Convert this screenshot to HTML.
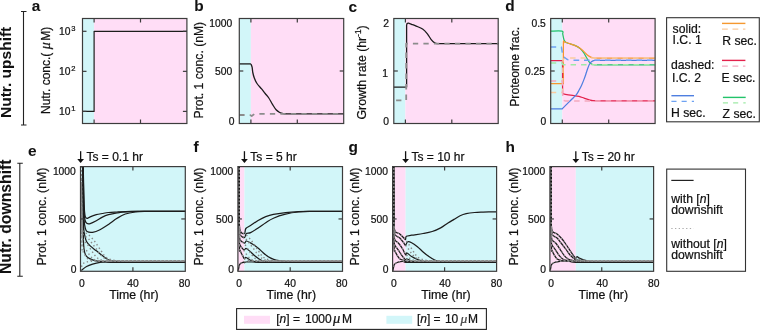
<!DOCTYPE html>
<html><head><meta charset="utf-8"><title>Figure</title>
<style>html,body{margin:0;padding:0;background:#fff;width:760px;height:330px;overflow:hidden}svg{display:block;will-change:transform}text{stroke:#111;stroke-width:0.22px}text[font-weight=bold]{stroke-width:0.05px}</style>
</head><body>
<svg width="760" height="330" viewBox="0 0 760 330" font-family="'Liberation Sans', sans-serif" fill="#111">
<rect width="760" height="330" fill="#fff"/>
<rect x="82.50" y="18.50" width="11.60" height="105.00" fill="#D2F6F9"/>
<rect x="94.10" y="18.50" width="92.80" height="105.00" fill="#FFDDF6"/>
<rect x="239.30" y="18.50" width="11.60" height="105.00" fill="#D2F6F9"/>
<rect x="250.90" y="18.50" width="92.80" height="105.00" fill="#FFDDF6"/>
<rect x="393.80" y="18.50" width="11.60" height="105.00" fill="#D2F6F9"/>
<rect x="405.40" y="18.50" width="92.80" height="105.00" fill="#FFDDF6"/>
<rect x="550.70" y="18.50" width="11.60" height="105.00" fill="#D2F6F9"/>
<rect x="562.30" y="18.50" width="92.80" height="105.00" fill="#FFDDF6"/>
<path d="M82.50,111.40 L94.10,111.40 L94.10,31.30 L186.90,31.30" fill="none" stroke="#1c1c1c" stroke-width="1.20" stroke-linejoin="round" />
<path d="M239.30,63.90 L250.90,63.90" fill="none" stroke="#1c1c1c" stroke-width="1.30" stroke-linejoin="round" />
<path d="M250.90,63.90 C251.10,64.43 251.78,65.67 252.10,67.10 C252.42,68.53 252.43,70.68 252.80,72.50 C253.17,74.32 253.60,76.17 254.30,78.00 C255.00,79.83 255.78,81.68 257.00,83.50 C258.22,85.32 260.23,87.23 261.60,88.90 C262.97,90.57 264.00,91.98 265.20,93.50 C266.40,95.02 267.58,96.18 268.80,98.00 C270.02,99.82 271.28,102.43 272.50,104.40 C273.72,106.37 274.90,108.45 276.10,109.80 C277.30,111.15 278.48,111.87 279.70,112.50 C280.92,113.13 282.03,113.38 283.40,113.60 C284.77,113.82 287.15,113.77 287.90,113.80 L343.70,113.8" fill="none" stroke="#1c1c1c" stroke-width="1.30" stroke-linejoin="round" />
<path d="M239.30,115.00 L249.90,115.00 L251.70,116.00 L254.40,114.00 L258.90,113.80 L343.70,113.80" fill="none" stroke="#8c8c8c" stroke-width="1.80" stroke-dasharray="5.3 5.2" stroke-linejoin="round" />
<path d="M393.80,87.10 L406.60,87.10 L406.60,25.20 L406.60,25.20 C406.70,24.92 406.90,23.85 407.20,23.50 C407.50,23.15 407.67,22.97 408.40,23.10 C409.13,23.23 410.30,23.80 411.60,24.30 C412.90,24.80 414.37,25.32 416.20,26.10 C418.03,26.88 420.73,27.72 422.60,29.00 C424.47,30.28 426.00,32.08 427.40,33.80 C428.80,35.52 429.78,37.78 431.00,39.30 C432.22,40.82 433.53,42.18 434.70,42.90 C435.87,43.62 436.28,43.48 438.00,43.60 C439.72,43.72 443.83,43.60 445.00,43.60 L498.20,43.6" fill="none" stroke="#1c1c1c" stroke-width="1.30" stroke-linejoin="round" />
<path d="M393.80,100.30 L406.20,100.30 L406.20,43.60 L498.20,43.60" fill="none" stroke="#8c8c8c" stroke-width="1.80" stroke-dasharray="5.3 5.2" stroke-linejoin="round" stroke-dashoffset="8.2"/>
<path d="M550.70,31.10 C552.58,31.10 560.00,30.63 562.00,31.10 C564.00,31.57 562.47,32.87 562.70,33.90 C562.93,34.93 563.17,36.28 563.40,37.30 C563.63,38.32 563.65,39.13 564.10,40.00 C564.55,40.87 564.97,41.82 566.10,42.50 C567.23,43.18 569.18,43.50 570.90,44.10 C572.62,44.70 574.80,45.30 576.40,46.10 C578.00,46.90 579.25,47.75 580.50,48.90 C581.75,50.05 582.88,51.53 583.90,53.00 C584.92,54.47 585.70,56.18 586.60,57.70 C587.50,59.22 588.38,61.00 589.30,62.10 C590.22,63.20 591.07,63.85 592.10,64.30 C593.13,64.75 594.18,64.72 595.50,64.80 C596.82,64.88 599.25,64.80 600.00,64.80 L655.10,64.8" fill="none" stroke="#22C36A" stroke-width="1.25" stroke-linejoin="round" />
<path d="M550.70,83.50 L563.40,83.50 L563.40,83.50 C563.40,77.00 563.32,51.32 563.40,44.50 C563.48,37.68 563.67,43.02 563.90,42.60 C564.13,42.18 563.63,41.75 564.80,42.00 C565.97,42.25 568.75,43.30 570.90,44.10 C573.05,44.90 575.65,45.67 577.70,46.80 C579.75,47.93 581.60,49.53 583.20,50.90 C584.80,52.27 586.05,53.97 587.30,55.00 C588.55,56.03 589.57,56.60 590.70,57.10 C591.83,57.60 592.55,57.83 594.10,58.00 C595.65,58.17 599.02,58.08 600.00,58.10 L655.10,58.1" fill="none" stroke="#F5982F" stroke-width="1.25" stroke-linejoin="round" />
<path d="M550.70,60.70 L562.50,60.70 L562.60,93.80 L562.60,93.80 C563.32,93.95 565.03,94.42 566.90,94.70 C568.77,94.98 571.78,95.22 573.80,95.50 C575.82,95.78 577.28,95.97 579.00,96.40 C580.72,96.83 582.38,97.53 584.10,98.10 C585.82,98.67 587.85,99.37 589.30,99.80 C590.75,100.23 591.35,100.52 592.80,100.70 C594.25,100.88 597.13,100.87 598.00,100.90 L655.10,100.9" fill="none" stroke="#E3224D" stroke-width="1.25" stroke-linejoin="round" />
<path d="M550.70,108.80 L562.30,108.80 L562.30,108.80 C562.48,108.60 562.63,108.38 563.40,107.60 C564.17,106.82 565.75,105.25 566.90,104.10 C568.05,102.95 569.15,101.85 570.30,100.70 C571.45,99.55 572.78,98.20 573.80,97.20 C574.82,96.20 575.53,95.85 576.40,94.70 C577.27,93.55 578.13,91.88 579.00,90.30 C579.87,88.72 580.75,87.07 581.60,85.20 C582.45,83.33 583.38,80.97 584.10,79.10 C584.82,77.23 585.32,75.72 585.90,74.00 C586.48,72.28 587.03,70.38 587.60,68.80 C588.17,67.22 588.67,65.67 589.30,64.50 C589.93,63.33 590.53,62.48 591.40,61.80 C592.27,61.12 593.07,60.65 594.50,60.40 C595.93,60.15 599.08,60.32 600.00,60.30 L655.10,60.3" fill="none" stroke="#4F7FE0" stroke-width="1.25" stroke-linejoin="round" />
<path d="M550.70,63.10 L562.30,63.10 L563.00,64.80 L655.10,64.80" fill="none" stroke="#9EEAA6" stroke-width="1.50" stroke-dasharray="5.5 5" stroke-linejoin="round" />
<path d="M550.70,92.60 L562.60,92.60 L563.00,60.00 L564.50,58.10 L655.10,58.10" fill="none" stroke="#F9CBA0" stroke-width="1.50" stroke-dasharray="5.5 5" stroke-linejoin="round" />
<path d="M550.70,81.10 L562.30,81.10 L562.80,100.00 L565.00,100.90 L655.10,100.90" fill="none" stroke="#F4A9BF" stroke-width="1.50" stroke-dasharray="5.5 5" stroke-linejoin="round" />
<path d="M550.70,47.10 L561.40,47.10 L561.40,47.10 C561.62,48.30 562.25,52.63 562.70,54.30 C563.15,55.97 563.42,56.30 564.10,57.10 C564.78,57.90 565.82,58.58 566.80,59.10 C567.78,59.62 567.80,60.00 570.00,60.20 C572.20,60.40 578.33,60.28 580.00,60.30 L655.10,60.3" fill="none" stroke="#6EA2F2" stroke-width="1.50" stroke-dasharray="5.5 5" stroke-linejoin="round" />
<line x1="94.10" y1="18.50" x2="94.10" y2="22.50" stroke="#3c3c3c" stroke-width="1.2"/>
<line x1="94.10" y1="119.50" x2="94.10" y2="123.50" stroke="#3c3c3c" stroke-width="1.2"/>
<line x1="140.50" y1="18.50" x2="140.50" y2="22.50" stroke="#3c3c3c" stroke-width="1.2"/>
<line x1="140.50" y1="119.50" x2="140.50" y2="123.50" stroke="#3c3c3c" stroke-width="1.2"/>
<line x1="82.50" y1="31.30" x2="86.50" y2="31.30" stroke="#3c3c3c" stroke-width="1.2"/>
<line x1="182.90" y1="31.30" x2="186.90" y2="31.30" stroke="#3c3c3c" stroke-width="1.2"/>
<line x1="82.50" y1="71.35" x2="86.50" y2="71.35" stroke="#3c3c3c" stroke-width="1.2"/>
<line x1="182.90" y1="71.35" x2="186.90" y2="71.35" stroke="#3c3c3c" stroke-width="1.2"/>
<line x1="82.50" y1="111.40" x2="86.50" y2="111.40" stroke="#3c3c3c" stroke-width="1.2"/>
<line x1="182.90" y1="111.40" x2="186.90" y2="111.40" stroke="#3c3c3c" stroke-width="1.2"/>
<rect x="82.50" y="18.50" width="104.40" height="105.00" fill="none" stroke="#3c3c3c" stroke-width="1.2"/>
<line x1="250.90" y1="18.50" x2="250.90" y2="22.50" stroke="#3c3c3c" stroke-width="1.2"/>
<line x1="250.90" y1="119.50" x2="250.90" y2="123.50" stroke="#3c3c3c" stroke-width="1.2"/>
<line x1="297.30" y1="18.50" x2="297.30" y2="22.50" stroke="#3c3c3c" stroke-width="1.2"/>
<line x1="297.30" y1="119.50" x2="297.30" y2="123.50" stroke="#3c3c3c" stroke-width="1.2"/>
<line x1="239.30" y1="71.00" x2="243.30" y2="71.00" stroke="#3c3c3c" stroke-width="1.2"/>
<line x1="339.70" y1="71.00" x2="343.70" y2="71.00" stroke="#3c3c3c" stroke-width="1.2"/>
<rect x="239.30" y="18.50" width="104.40" height="105.00" fill="none" stroke="#3c3c3c" stroke-width="1.2"/>
<line x1="405.40" y1="18.50" x2="405.40" y2="22.50" stroke="#3c3c3c" stroke-width="1.2"/>
<line x1="405.40" y1="119.50" x2="405.40" y2="123.50" stroke="#3c3c3c" stroke-width="1.2"/>
<line x1="451.80" y1="18.50" x2="451.80" y2="22.50" stroke="#3c3c3c" stroke-width="1.2"/>
<line x1="451.80" y1="119.50" x2="451.80" y2="123.50" stroke="#3c3c3c" stroke-width="1.2"/>
<line x1="393.80" y1="71.00" x2="397.80" y2="71.00" stroke="#3c3c3c" stroke-width="1.2"/>
<line x1="494.20" y1="71.00" x2="498.20" y2="71.00" stroke="#3c3c3c" stroke-width="1.2"/>
<rect x="393.80" y="18.50" width="104.40" height="105.00" fill="none" stroke="#3c3c3c" stroke-width="1.2"/>
<line x1="562.30" y1="18.50" x2="562.30" y2="22.50" stroke="#3c3c3c" stroke-width="1.2"/>
<line x1="562.30" y1="119.50" x2="562.30" y2="123.50" stroke="#3c3c3c" stroke-width="1.2"/>
<line x1="608.70" y1="18.50" x2="608.70" y2="22.50" stroke="#3c3c3c" stroke-width="1.2"/>
<line x1="608.70" y1="119.50" x2="608.70" y2="123.50" stroke="#3c3c3c" stroke-width="1.2"/>
<line x1="550.70" y1="71.00" x2="554.70" y2="71.00" stroke="#3c3c3c" stroke-width="1.2"/>
<line x1="651.10" y1="71.00" x2="655.10" y2="71.00" stroke="#3c3c3c" stroke-width="1.2"/>
<rect x="550.70" y="18.50" width="104.40" height="105.00" fill="none" stroke="#3c3c3c" stroke-width="1.2"/>
<rect x="80.50" y="166.60" width="0.13" height="104.70" fill="#FFDDF6"/>
<rect x="80.63" y="166.60" width="104.67" height="104.70" fill="#D2F6F9"/>
<rect x="237.90" y="166.60" width="6.54" height="104.70" fill="#FFDDF6"/>
<rect x="244.44" y="166.60" width="98.06" height="104.70" fill="#D2F6F9"/>
<rect x="392.60" y="166.60" width="13.00" height="104.70" fill="#FFDDF6"/>
<rect x="405.60" y="166.60" width="91.00" height="104.70" fill="#D2F6F9"/>
<rect x="549.90" y="166.60" width="25.92" height="104.70" fill="#FFDDF6"/>
<rect x="575.82" y="166.60" width="77.78" height="104.70" fill="#D2F6F9"/>
<path d="M83.22,166.60 C83.29,169.67 83.47,178.60 83.62,185.00 C83.78,191.40 83.91,200.00 84.13,205.00 C84.35,210.00 84.61,212.87 84.93,215.00 C85.25,217.13 85.61,217.25 86.04,217.80 C86.48,218.35 86.87,218.47 87.55,218.30 C88.24,218.13 88.71,217.40 90.17,216.80 C91.64,216.20 94.29,215.25 96.32,214.70 C98.35,214.15 100.33,213.87 102.37,213.50 C104.40,213.13 106.06,212.75 108.51,212.50 C110.97,212.25 113.35,212.18 117.08,212.00 C120.81,211.82 126.90,211.52 130.88,211.40 C134.87,211.28 139.28,211.32 140.96,211.30 L185.30,211.30" fill="none" stroke="#1c1c1c" stroke-width="1.25" stroke-linejoin="round" />
<path d="M83.12,166.60 C83.19,170.50 83.36,182.27 83.52,190.00 C83.69,197.73 83.86,207.92 84.13,213.00 C84.40,218.08 84.70,218.78 85.14,220.50 C85.57,222.22 85.91,222.78 86.75,223.30 C87.59,223.82 88.58,224.02 90.17,223.60 C91.77,223.18 94.29,221.88 96.32,220.80 C98.35,219.72 100.33,218.12 102.37,217.10 C104.40,216.08 106.06,215.40 108.51,214.70 C110.97,214.00 114.19,213.38 117.08,212.90 C119.97,212.42 121.87,212.07 125.85,211.80 C129.83,211.53 138.44,211.38 140.96,211.30 L185.30,211.30" fill="none" stroke="#1c1c1c" stroke-width="1.25" stroke-linejoin="round" />
<path d="M83.02,166.60 C83.09,171.33 83.25,186.27 83.42,195.00 C83.59,203.73 83.72,213.50 84.03,219.00 C84.33,224.50 84.73,225.92 85.24,228.00 C85.74,230.08 85.82,230.78 87.05,231.50 C88.28,232.22 90.44,232.58 92.59,232.30 C94.74,232.02 97.29,231.12 99.95,229.80 C102.60,228.48 105.66,226.32 108.51,224.40 C111.37,222.48 114.27,220.03 117.08,218.30 C119.88,216.57 122.29,215.05 125.34,214.00 C128.40,212.95 131.98,212.43 135.42,212.00 C138.86,211.57 142.56,211.52 146.00,211.40 C149.44,211.28 154.40,211.32 156.08,211.30 L185.30,211.30" fill="none" stroke="#1c1c1c" stroke-width="1.25" stroke-linejoin="round" />
<path d="M82.82,166.60 C82.88,172.17 83.07,189.77 83.22,200.00 C83.37,210.23 83.42,221.92 83.72,228.00 C84.03,234.08 84.56,234.25 85.03,236.50 C85.50,238.75 85.69,239.93 86.55,241.50 C87.40,243.07 88.54,244.35 90.17,245.90 C91.80,247.45 94.29,249.18 96.32,250.80 C98.35,252.42 100.33,254.10 102.37,255.60 C104.40,257.10 106.46,258.87 108.51,259.80 C110.56,260.73 112.28,260.83 114.66,261.20 C117.05,261.57 120.12,261.80 122.82,262.00 C125.53,262.20 129.54,262.33 130.88,262.40 L185.30,262.40" fill="none" stroke="#1c1c1c" stroke-width="1.25" stroke-linejoin="round" />
<path d="M82.62,166.60 C82.68,173.83 82.88,197.77 83.02,210.00 C83.15,222.23 83.24,233.42 83.42,240.00 C83.61,246.58 83.81,247.10 84.13,249.50 C84.45,251.90 84.73,253.08 85.34,254.40 C85.94,255.72 86.55,256.50 87.76,257.40 C88.96,258.30 90.96,259.17 92.59,259.80 C94.22,260.43 95.35,260.83 97.53,261.20 C99.71,261.57 103.16,261.80 105.69,262.00 C108.23,262.20 111.57,262.33 112.75,262.40 L185.30,262.40" fill="none" stroke="#1c1c1c" stroke-width="1.25" stroke-linejoin="round" />
<path d="M80.80,271.00 C80.94,270.87 80.65,270.95 81.61,270.20 C82.57,269.45 84.72,267.52 86.55,266.50 C88.38,265.48 90.36,264.80 92.59,264.10 C94.83,263.40 97.70,262.65 99.95,262.30 C102.20,261.95 103.96,261.98 106.10,262.00 C108.23,262.02 111.64,262.33 112.75,262.40 L185.30,262.40" fill="none" stroke="#1c1c1c" stroke-width="1.25" stroke-linejoin="round" />
<path d="M81.31,166.60 C81.37,174.67 81.47,204.35 81.71,215.00 C81.94,225.65 81.71,227.33 82.72,230.50 C83.72,233.67 86.08,232.58 87.76,234.00 C89.43,235.42 91.28,237.25 92.79,239.00 C94.31,240.75 95.48,242.58 96.82,244.50 C98.17,246.42 99.68,248.75 100.86,250.50 C102.03,252.25 102.87,253.78 103.88,255.00 C104.89,256.22 105.73,257.05 106.90,257.80 C108.08,258.55 109.42,259.05 110.93,259.50 C112.44,259.95 113.99,260.25 115.97,260.50 C117.95,260.75 120.34,260.92 122.82,261.00 C125.31,261.08 129.54,261.00 130.88,261.00 L185.30,261.00" fill="none" stroke="#8a8a8a" stroke-width="1.40" stroke-dasharray="1.4 2.6" stroke-linejoin="round" />
<path d="M81.31,170.00 C81.39,178.67 81.57,211.32 81.81,222.00 C82.05,232.68 81.73,231.43 82.72,234.10 C83.71,236.77 86.24,236.52 87.76,238.00 C89.27,239.48 90.27,241.08 91.79,243.00 C93.30,244.92 95.31,247.50 96.82,249.50 C98.34,251.50 99.51,253.50 100.86,255.00 C102.20,256.50 103.54,257.63 104.89,258.50 C106.23,259.37 107.27,259.80 108.92,260.20 C110.56,260.60 112.44,260.77 114.76,260.90 C117.08,261.03 121.48,260.98 122.82,261.00 L185.30,261.00" fill="none" stroke="#8a8a8a" stroke-width="1.40" stroke-dasharray="1.4 2.6" stroke-linejoin="round" />
<path d="M81.31,175.00 C81.41,184.17 81.68,219.25 81.91,230.00 C82.15,240.75 81.91,237.25 82.72,239.50 C83.52,241.75 85.40,241.87 86.75,243.50 C88.09,245.13 89.43,247.33 90.78,249.30 C92.12,251.27 93.47,253.68 94.81,255.30 C96.15,256.92 97.33,258.12 98.84,259.00 C100.35,259.88 101.90,260.27 103.88,260.60 C105.86,260.93 108.25,260.93 110.73,261.00 C113.22,261.07 117.45,261.00 118.79,261.00 L185.30,261.00" fill="none" stroke="#8a8a8a" stroke-width="1.40" stroke-dasharray="1.4 2.6" stroke-linejoin="round" />
<path d="M81.31,180.00 C81.42,189.67 81.78,227.17 82.01,238.00 C82.25,248.83 82.10,243.12 82.72,245.00 C83.34,246.88 84.56,247.58 85.74,249.30 C86.92,251.02 88.43,253.65 89.77,255.30 C91.11,256.95 92.29,258.30 93.80,259.20 C95.31,260.10 96.86,260.40 98.84,260.70 C100.82,261.00 103.37,260.95 105.69,261.00 C108.01,261.05 111.57,261.00 112.75,261.00 L185.30,261.00" fill="none" stroke="#8a8a8a" stroke-width="1.40" stroke-dasharray="1.4 2.6" stroke-linejoin="round" />
<path d="M81.31,185.00 C81.42,195.00 81.78,234.08 82.01,245.00 C82.25,255.92 82.20,248.77 82.72,250.50 C83.24,252.23 84.28,254.00 85.14,255.40 C85.99,256.80 86.65,258.05 87.86,258.90 C89.07,259.75 90.59,260.15 92.39,260.50 C94.19,260.85 96.25,260.92 98.64,261.00 C101.02,261.08 105.36,261.00 106.70,261.00 L185.30,261.00" fill="none" stroke="#8a8a8a" stroke-width="1.40" stroke-dasharray="1.4 2.6" stroke-linejoin="round" />
<path d="M80.80,271.00 C81.05,269.90 81.44,265.87 82.31,264.40 C83.19,262.93 84.67,262.72 86.04,262.20 C87.42,261.68 88.81,261.50 90.58,261.30 C92.34,261.10 95.62,261.05 96.62,261.00 L185.30,261.00" fill="none" stroke="#8a8a8a" stroke-width="1.40" stroke-dasharray="1.4 2.6" stroke-linejoin="round" />
<line x1="132.90" y1="166.60" x2="132.90" y2="170.60" stroke="#3c3c3c" stroke-width="1.2"/>
<line x1="132.90" y1="267.30" x2="132.90" y2="271.30" stroke="#3c3c3c" stroke-width="1.2"/>
<line x1="80.50" y1="218.95" x2="84.50" y2="218.95" stroke="#3c3c3c" stroke-width="1.2"/>
<line x1="181.30" y1="218.95" x2="185.30" y2="218.95" stroke="#3c3c3c" stroke-width="1.2"/>
<rect x="80.50" y="166.60" width="104.80" height="104.70" fill="none" stroke="#3c3c3c" stroke-width="1.2"/>
<line x1="238.90" y1="166.60" x2="238.90" y2="228.00" stroke="#1c1c1c" stroke-width="1.5"/>
<path d="M238.70,166.60 C238.77,174.67 238.87,204.35 239.11,215.00 C239.34,225.65 239.22,227.40 240.11,230.50 C241.00,233.60 243.48,233.93 244.44,233.60 C245.39,233.27 244.82,229.85 245.85,228.50 C246.87,227.15 248.53,226.83 250.57,225.50 C252.62,224.17 255.58,221.97 258.12,220.50 C260.65,219.03 263.21,217.72 265.76,216.70 C268.31,215.68 270.10,215.08 273.40,214.40 C276.71,213.72 281.43,213.07 285.57,212.60 C289.71,212.13 294.12,211.82 298.25,211.60 C302.37,211.38 308.30,211.35 310.32,211.30 L342.50,211.30" fill="none" stroke="#1c1c1c" stroke-width="1.25" stroke-linejoin="round" />
<path d="M238.70,170.00 C238.79,178.67 238.97,211.32 239.21,222.00 C239.44,232.68 239.24,231.50 240.11,234.10 C240.98,236.70 243.40,237.70 244.44,237.60 C245.48,237.50 245.33,234.33 246.35,233.50 C247.37,232.67 248.61,233.52 250.57,232.60 C252.53,231.68 255.58,229.65 258.12,228.00 C260.65,226.35 263.21,224.33 265.76,222.70 C268.31,221.07 270.10,219.62 273.40,218.20 C276.71,216.78 281.43,215.23 285.57,214.20 C289.71,213.17 293.62,212.47 298.25,212.00 C302.87,211.53 309.14,211.52 313.33,211.40 C317.52,211.28 321.71,211.32 323.39,211.30 L342.50,211.30" fill="none" stroke="#1c1c1c" stroke-width="1.25" stroke-linejoin="round" />
<path d="M238.70,175.00 C238.81,184.17 239.07,219.25 239.31,230.00 C239.54,240.75 239.26,237.30 240.11,239.50 C240.97,241.70 243.36,242.95 244.44,243.20 C245.51,243.45 245.24,240.87 246.55,241.00 C247.86,241.13 250.44,242.88 252.28,244.00 C254.13,245.12 255.84,246.28 257.61,247.70 C259.39,249.12 261.17,250.98 262.94,252.50 C264.72,254.02 266.48,255.65 268.27,256.80 C270.07,257.95 271.91,258.75 273.71,259.40 C275.50,260.05 276.89,260.33 279.04,260.70 C281.18,261.07 283.71,261.32 286.58,261.60 C289.45,261.88 294.63,262.27 296.23,262.40 L342.50,262.40" fill="none" stroke="#1c1c1c" stroke-width="1.25" stroke-linejoin="round" />
<path d="M238.70,180.00 C238.82,189.67 239.17,227.17 239.41,238.00 C239.64,248.83 239.49,243.12 240.11,245.00 C240.73,246.88 242.41,248.50 243.13,249.30 C243.85,250.10 243.92,249.93 244.44,249.80 C244.96,249.67 245.29,248.22 246.25,248.50 C247.20,248.78 248.81,250.32 250.17,251.50 C251.53,252.68 252.79,254.27 254.39,255.60 C256.00,256.93 257.98,258.52 259.83,259.50 C261.67,260.48 263.08,261.02 265.46,261.50 C267.84,261.98 272.67,262.25 274.11,262.40 L342.50,262.40" fill="none" stroke="#1c1c1c" stroke-width="1.25" stroke-linejoin="round" />
<path d="M238.70,185.00 C238.82,195.00 239.17,234.08 239.41,245.00 C239.64,255.92 239.59,248.77 240.11,250.50 C240.63,252.23 241.81,254.02 242.53,255.40 C243.25,256.78 243.87,258.45 244.44,258.80 C245.01,259.15 245.02,257.30 245.95,257.50 C246.87,257.70 248.46,259.32 249.97,260.00 C251.48,260.68 252.82,261.20 255.00,261.60 C257.18,262.00 261.70,262.27 263.04,262.40 L342.50,262.40" fill="none" stroke="#1c1c1c" stroke-width="1.25" stroke-linejoin="round" />
<path d="M238.20,271.00 C238.45,269.90 238.84,265.87 239.71,264.40 C240.58,262.93 242.64,262.50 243.43,262.20 C244.22,261.90 244.02,262.63 244.44,262.60 C244.86,262.57 244.69,262.10 245.95,262.00 C247.20,261.90 249.63,261.93 251.98,262.00 C254.33,262.07 258.69,262.33 260.03,262.40 L342.50,262.40" fill="none" stroke="#1c1c1c" stroke-width="1.25" stroke-linejoin="round" />
<path d="M238.70,166.60 C238.77,174.67 238.87,204.35 239.11,215.00 C239.34,225.65 239.11,227.33 240.11,230.50 C241.12,233.67 243.47,232.58 245.14,234.00 C246.82,235.42 248.66,237.25 250.17,239.00 C251.68,240.75 252.85,242.58 254.19,244.50 C255.53,246.42 257.04,248.75 258.22,250.50 C259.39,252.25 260.23,253.78 261.23,255.00 C262.24,256.22 263.08,257.05 264.25,257.80 C265.42,258.55 266.77,259.05 268.27,259.50 C269.78,259.95 271.33,260.25 273.30,260.50 C275.28,260.75 277.66,260.92 280.14,261.00 C282.62,261.08 286.85,261.00 288.19,261.00 L342.50,261.00" fill="none" stroke="#8a8a8a" stroke-width="1.40" stroke-dasharray="1.4 2.6" stroke-linejoin="round" />
<path d="M238.70,170.00 C238.79,178.67 238.97,211.32 239.21,222.00 C239.44,232.68 239.12,231.43 240.11,234.10 C241.10,236.77 243.63,236.52 245.14,238.00 C246.65,239.48 247.66,241.08 249.16,243.00 C250.67,244.92 252.68,247.50 254.19,249.50 C255.70,251.50 256.88,253.50 258.22,255.00 C259.56,256.50 260.90,257.63 262.24,258.50 C263.58,259.37 264.62,259.80 266.26,260.20 C267.91,260.60 269.78,260.77 272.10,260.90 C274.41,261.03 278.80,260.98 280.14,261.00 L342.50,261.00" fill="none" stroke="#8a8a8a" stroke-width="1.40" stroke-dasharray="1.4 2.6" stroke-linejoin="round" />
<path d="M238.70,175.00 C238.81,184.17 239.07,219.25 239.31,230.00 C239.54,240.75 239.31,237.25 240.11,239.50 C240.92,241.75 242.79,241.87 244.14,243.50 C245.48,245.13 246.82,247.33 248.16,249.30 C249.50,251.27 250.84,253.68 252.18,255.30 C253.52,256.92 254.70,258.12 256.20,259.00 C257.71,259.88 259.26,260.27 261.23,260.60 C263.21,260.93 265.59,260.93 268.07,261.00 C270.55,261.07 274.78,261.00 276.12,261.00 L342.50,261.00" fill="none" stroke="#8a8a8a" stroke-width="1.40" stroke-dasharray="1.4 2.6" stroke-linejoin="round" />
<path d="M238.70,180.00 C238.82,189.67 239.17,227.17 239.41,238.00 C239.64,248.83 239.49,243.12 240.11,245.00 C240.73,246.88 241.96,247.58 243.13,249.30 C244.30,251.02 245.81,253.65 247.15,255.30 C248.49,256.95 249.67,258.30 251.18,259.20 C252.68,260.10 254.23,260.40 256.20,260.70 C258.18,261.00 260.73,260.95 263.04,261.00 C265.36,261.05 268.91,261.00 270.08,261.00 L342.50,261.00" fill="none" stroke="#8a8a8a" stroke-width="1.40" stroke-dasharray="1.4 2.6" stroke-linejoin="round" />
<path d="M238.70,185.00 C238.82,195.00 239.17,234.08 239.41,245.00 C239.64,255.92 239.59,248.77 240.11,250.50 C240.63,252.23 241.67,254.00 242.53,255.40 C243.38,256.80 244.04,258.05 245.24,258.90 C246.45,259.75 247.97,260.15 249.77,260.50 C251.56,260.85 253.62,260.92 256.00,261.00 C258.38,261.08 262.71,261.00 264.05,261.00 L342.50,261.00" fill="none" stroke="#8a8a8a" stroke-width="1.40" stroke-dasharray="1.4 2.6" stroke-linejoin="round" />
<path d="M238.20,271.00 C238.45,269.90 238.84,265.87 239.71,264.40 C240.58,262.93 242.06,262.72 243.43,262.20 C244.81,261.68 246.20,261.50 247.96,261.30 C249.72,261.10 252.99,261.05 253.99,261.00 L342.50,261.00" fill="none" stroke="#8a8a8a" stroke-width="1.40" stroke-dasharray="1.4 2.6" stroke-linejoin="round" />
<line x1="239.10" y1="166.60" x2="239.10" y2="226.00" stroke="#111" stroke-width="1.6"/>
<line x1="239.10" y1="168.10" x2="239.10" y2="226.00" stroke="#8a8a8a" stroke-width="1.6" stroke-dasharray="1.8 1.8"/>
<line x1="290.20" y1="166.60" x2="290.20" y2="170.60" stroke="#3c3c3c" stroke-width="1.2"/>
<line x1="290.20" y1="267.30" x2="290.20" y2="271.30" stroke="#3c3c3c" stroke-width="1.2"/>
<line x1="237.90" y1="218.95" x2="241.90" y2="218.95" stroke="#3c3c3c" stroke-width="1.2"/>
<line x1="338.50" y1="218.95" x2="342.50" y2="218.95" stroke="#3c3c3c" stroke-width="1.2"/>
<rect x="237.90" y="166.60" width="104.60" height="104.70" fill="none" stroke="#3c3c3c" stroke-width="1.2"/>
<line x1="393.60" y1="166.60" x2="393.60" y2="228.00" stroke="#1c1c1c" stroke-width="1.5"/>
<path d="M393.40,166.60 C393.47,174.67 393.57,204.35 393.80,215.00 C394.03,225.65 393.80,227.33 394.80,230.50 C395.80,233.67 398.13,232.58 399.80,234.00 C401.47,235.42 403.83,238.13 404.80,239.00 C405.77,239.87 405.33,239.65 405.60,239.20 C405.87,238.75 405.40,236.97 406.40,236.30 C407.40,235.63 408.82,235.67 411.60,235.20 C414.38,234.73 419.67,234.12 423.10,233.50 C426.53,232.88 429.27,232.43 432.20,231.50 C435.13,230.57 438.07,229.32 440.70,227.90 C443.33,226.48 445.78,224.42 448.00,223.00 C450.22,221.58 451.98,220.60 454.00,219.40 C456.02,218.20 458.07,216.75 460.10,215.80 C462.13,214.85 463.78,214.25 466.20,213.70 C468.62,213.15 471.78,212.77 474.60,212.50 C477.42,212.23 479.55,212.22 483.10,212.10 C486.65,211.98 493.77,211.85 495.90,211.80 L496.60,211.80" fill="none" stroke="#1c1c1c" stroke-width="1.25" stroke-linejoin="round" />
<path d="M393.40,170.00 C393.48,178.67 393.67,211.32 393.90,222.00 C394.13,232.68 393.82,231.43 394.80,234.10 C395.78,236.77 398.30,236.52 399.80,238.00 C401.30,239.48 402.83,241.78 403.80,243.00 C404.77,244.22 404.97,245.50 405.60,245.30 C406.23,245.10 406.60,242.23 407.60,241.80 C408.60,241.37 409.97,241.88 411.60,242.70 C413.23,243.52 415.48,245.17 417.40,246.70 C419.32,248.23 421.18,250.27 423.10,251.90 C425.02,253.53 426.97,255.15 428.90,256.50 C430.83,257.85 432.83,259.17 434.70,260.00 C436.57,260.83 437.95,261.10 440.10,261.50 C442.25,261.90 446.35,262.25 447.60,262.40 L496.60,262.40" fill="none" stroke="#1c1c1c" stroke-width="1.25" stroke-linejoin="round" />
<path d="M393.40,175.00 C393.50,184.17 393.77,219.25 394.00,230.00 C394.23,240.75 394.00,237.25 394.80,239.50 C395.60,241.75 397.47,241.87 398.80,243.50 C400.13,245.13 401.67,247.42 402.80,249.30 C403.93,251.18 404.90,254.18 405.60,254.80 C406.30,255.42 406.00,252.72 407.00,253.00 C408.00,253.28 409.87,255.43 411.60,256.50 C413.33,257.57 415.48,258.57 417.40,259.40 C419.32,260.23 420.90,261.00 423.10,261.50 C425.30,262.00 429.35,262.25 430.60,262.40 L496.60,262.40" fill="none" stroke="#1c1c1c" stroke-width="1.25" stroke-linejoin="round" />
<path d="M393.40,180.00 C393.52,189.67 393.87,227.17 394.10,238.00 C394.33,248.83 394.18,243.12 394.80,245.00 C395.42,246.88 396.63,247.58 397.80,249.30 C398.97,251.02 400.50,253.55 401.80,255.30 C403.10,257.05 404.72,259.18 405.60,259.80 C406.48,260.42 406.10,258.80 407.10,259.00 C408.10,259.20 409.68,260.43 411.60,261.00 C413.52,261.57 417.43,262.17 418.60,262.40 L496.60,262.40" fill="none" stroke="#1c1c1c" stroke-width="1.25" stroke-linejoin="round" />
<path d="M393.40,185.00 C393.52,195.00 393.87,234.08 394.10,245.00 C394.33,255.92 394.28,248.77 394.80,250.50 C395.32,252.23 396.35,254.00 397.20,255.40 C398.05,256.80 398.70,258.05 399.90,258.90 C401.10,259.75 403.45,260.03 404.40,260.50 C405.35,260.97 405.07,261.57 405.60,261.70 C406.13,261.83 406.43,261.25 407.60,261.30 C408.77,261.35 410.77,261.82 412.60,262.00 C414.43,262.18 417.60,262.33 418.60,262.40 L496.60,262.40" fill="none" stroke="#1c1c1c" stroke-width="1.25" stroke-linejoin="round" />
<path d="M392.90,271.00 C393.15,269.90 393.53,265.87 394.40,264.40 C395.27,262.93 396.73,262.72 398.10,262.20 C399.47,261.68 401.35,261.28 402.60,261.30 C403.85,261.32 403.93,262.12 405.60,262.30 C407.27,262.48 411.43,262.38 412.60,262.40 L496.60,262.40" fill="none" stroke="#1c1c1c" stroke-width="1.25" stroke-linejoin="round" />
<path d="M393.40,166.60 C393.47,174.67 393.57,204.35 393.80,215.00 C394.03,225.65 393.80,227.33 394.80,230.50 C395.80,233.67 398.13,232.58 399.80,234.00 C401.47,235.42 403.30,237.25 404.80,239.00 C406.30,240.75 407.47,242.58 408.80,244.50 C410.13,246.42 411.63,248.75 412.80,250.50 C413.97,252.25 414.80,253.78 415.80,255.00 C416.80,256.22 417.63,257.05 418.80,257.80 C419.97,258.55 421.30,259.05 422.80,259.50 C424.30,259.95 425.83,260.25 427.80,260.50 C429.77,260.75 432.13,260.92 434.60,261.00 C437.07,261.08 441.27,261.00 442.60,261.00 L496.60,261.00" fill="none" stroke="#8a8a8a" stroke-width="1.40" stroke-dasharray="1.4 2.6" stroke-linejoin="round" />
<path d="M393.40,170.00 C393.48,178.67 393.67,211.32 393.90,222.00 C394.13,232.68 393.82,231.43 394.80,234.10 C395.78,236.77 398.30,236.52 399.80,238.00 C401.30,239.48 402.30,241.08 403.80,243.00 C405.30,244.92 407.30,247.50 408.80,249.50 C410.30,251.50 411.47,253.50 412.80,255.00 C414.13,256.50 415.47,257.63 416.80,258.50 C418.13,259.37 419.17,259.80 420.80,260.20 C422.43,260.60 424.30,260.77 426.60,260.90 C428.90,261.03 433.27,260.98 434.60,261.00 L496.60,261.00" fill="none" stroke="#8a8a8a" stroke-width="1.40" stroke-dasharray="1.4 2.6" stroke-linejoin="round" />
<path d="M393.40,175.00 C393.50,184.17 393.77,219.25 394.00,230.00 C394.23,240.75 394.00,237.25 394.80,239.50 C395.60,241.75 397.47,241.87 398.80,243.50 C400.13,245.13 401.47,247.33 402.80,249.30 C404.13,251.27 405.47,253.68 406.80,255.30 C408.13,256.92 409.30,258.12 410.80,259.00 C412.30,259.88 413.83,260.27 415.80,260.60 C417.77,260.93 420.13,260.93 422.60,261.00 C425.07,261.07 429.27,261.00 430.60,261.00 L496.60,261.00" fill="none" stroke="#8a8a8a" stroke-width="1.40" stroke-dasharray="1.4 2.6" stroke-linejoin="round" />
<path d="M393.40,180.00 C393.52,189.67 393.87,227.17 394.10,238.00 C394.33,248.83 394.18,243.12 394.80,245.00 C395.42,246.88 396.63,247.58 397.80,249.30 C398.97,251.02 400.47,253.65 401.80,255.30 C403.13,256.95 404.30,258.30 405.80,259.20 C407.30,260.10 408.83,260.40 410.80,260.70 C412.77,261.00 415.30,260.95 417.60,261.00 C419.90,261.05 423.43,261.00 424.60,261.00 L496.60,261.00" fill="none" stroke="#8a8a8a" stroke-width="1.40" stroke-dasharray="1.4 2.6" stroke-linejoin="round" />
<path d="M393.40,185.00 C393.52,195.00 393.87,234.08 394.10,245.00 C394.33,255.92 394.28,248.77 394.80,250.50 C395.32,252.23 396.35,254.00 397.20,255.40 C398.05,256.80 398.70,258.05 399.90,258.90 C401.10,259.75 402.62,260.15 404.40,260.50 C406.18,260.85 408.23,260.92 410.60,261.00 C412.97,261.08 417.27,261.00 418.60,261.00 L496.60,261.00" fill="none" stroke="#8a8a8a" stroke-width="1.40" stroke-dasharray="1.4 2.6" stroke-linejoin="round" />
<path d="M392.90,271.00 C393.15,269.90 393.53,265.87 394.40,264.40 C395.27,262.93 396.73,262.72 398.10,262.20 C399.47,261.68 400.85,261.50 402.60,261.30 C404.35,261.10 407.60,261.05 408.60,261.00 L496.60,261.00" fill="none" stroke="#8a8a8a" stroke-width="1.40" stroke-dasharray="1.4 2.6" stroke-linejoin="round" />
<line x1="393.80" y1="166.60" x2="393.80" y2="226.00" stroke="#111" stroke-width="1.6"/>
<line x1="393.80" y1="168.10" x2="393.80" y2="226.00" stroke="#8a8a8a" stroke-width="1.6" stroke-dasharray="1.8 1.8"/>
<line x1="444.60" y1="166.60" x2="444.60" y2="170.60" stroke="#3c3c3c" stroke-width="1.2"/>
<line x1="444.60" y1="267.30" x2="444.60" y2="271.30" stroke="#3c3c3c" stroke-width="1.2"/>
<line x1="392.60" y1="218.95" x2="396.60" y2="218.95" stroke="#3c3c3c" stroke-width="1.2"/>
<line x1="492.60" y1="218.95" x2="496.60" y2="218.95" stroke="#3c3c3c" stroke-width="1.2"/>
<rect x="392.60" y="166.60" width="104.00" height="104.70" fill="none" stroke="#3c3c3c" stroke-width="1.2"/>
<line x1="550.90" y1="166.60" x2="550.90" y2="228.00" stroke="#1c1c1c" stroke-width="1.5"/>
<path d="M550.70,166.60 C550.76,174.67 550.86,204.35 551.10,215.00 C551.33,225.65 551.10,227.33 552.09,230.50 C553.09,233.67 555.42,232.58 557.08,234.00 C558.74,235.42 560.57,237.25 562.06,239.00 C563.56,240.75 564.72,242.58 566.05,244.50 C567.38,246.42 568.88,248.75 570.04,250.50 C571.21,252.25 572.07,253.73 573.03,255.00 C574.00,256.27 575.14,257.82 575.82,258.10 C576.51,258.38 576.46,256.65 577.12,256.70 C577.79,256.75 578.60,257.82 579.81,258.40 C581.03,258.98 582.74,259.72 584.40,260.20 C586.06,260.68 587.56,260.93 589.78,261.30 C592.01,261.67 596.43,262.22 597.76,262.40 L653.60,262.40" fill="none" stroke="#1c1c1c" stroke-width="1.25" stroke-linejoin="round" />
<path d="M550.70,170.00 C550.78,178.67 550.96,211.32 551.20,222.00 C551.43,232.68 551.11,231.43 552.09,234.10 C553.07,236.77 555.58,236.52 557.08,238.00 C558.57,239.48 559.57,241.08 561.07,243.00 C562.56,244.92 564.56,247.50 566.05,249.50 C567.55,251.50 568.71,253.50 570.04,255.00 C571.37,256.50 573.07,257.58 574.03,258.50 C574.99,259.42 575.31,260.28 575.82,260.50 C576.34,260.72 576.29,259.72 577.12,259.80 C577.95,259.88 579.03,260.57 580.81,261.00 C582.59,261.43 586.63,262.17 587.79,262.40 L653.60,262.40" fill="none" stroke="#1c1c1c" stroke-width="1.25" stroke-linejoin="round" />
<path d="M550.70,175.00 C550.80,184.17 551.06,219.25 551.30,230.00 C551.53,240.75 551.30,237.25 552.09,239.50 C552.89,241.75 554.75,241.87 556.08,243.50 C557.41,245.13 558.74,247.33 560.07,249.30 C561.40,251.27 562.73,253.68 564.06,255.30 C565.39,256.92 566.55,258.12 568.05,259.00 C569.54,259.88 571.74,260.13 573.03,260.60 C574.33,261.07 575.03,261.65 575.82,261.80 C576.62,261.95 576.66,261.40 577.82,261.50 C578.98,261.60 581.97,262.25 582.80,262.40 L653.60,262.40" fill="none" stroke="#1c1c1c" stroke-width="1.25" stroke-linejoin="round" />
<path d="M550.70,180.00 C550.81,189.67 551.16,227.17 551.40,238.00 C551.63,248.83 551.48,243.12 552.09,245.00 C552.71,246.88 553.92,247.58 555.08,249.30 C556.25,251.02 557.74,253.65 559.07,255.30 C560.40,256.95 561.57,258.30 563.06,259.20 C564.56,260.10 566.09,260.40 568.05,260.70 C570.01,261.00 573.53,260.77 574.83,261.00 C576.12,261.23 574.99,261.87 575.82,262.10 C576.66,262.33 579.15,262.35 579.81,262.40 L653.60,262.40" fill="none" stroke="#1c1c1c" stroke-width="1.25" stroke-linejoin="round" />
<path d="M550.70,185.00 C550.81,195.00 551.16,234.08 551.40,245.00 C551.63,255.92 551.58,248.77 552.09,250.50 C552.61,252.23 553.64,254.00 554.49,255.40 C555.33,256.80 555.98,258.05 557.18,258.90 C558.38,259.75 559.89,260.15 561.67,260.50 C563.44,260.85 565.49,260.72 567.85,261.00 C570.21,261.28 573.83,261.97 575.82,262.20 C577.82,262.43 579.15,262.37 579.81,262.40 L653.60,262.40" fill="none" stroke="#1c1c1c" stroke-width="1.25" stroke-linejoin="round" />
<path d="M550.20,271.00 C550.45,269.90 550.83,265.87 551.69,264.40 C552.56,262.93 554.02,262.72 555.38,262.20 C556.75,261.68 558.13,261.50 559.87,261.30 C561.62,261.10 563.19,260.83 565.85,261.00 C568.51,261.17 573.50,262.07 575.82,262.30 C578.15,262.53 579.15,262.38 579.81,262.40 L653.60,262.40" fill="none" stroke="#1c1c1c" stroke-width="1.25" stroke-linejoin="round" />
<path d="M550.70,166.60 C550.76,174.67 550.86,204.35 551.10,215.00 C551.33,225.65 551.10,227.33 552.09,230.50 C553.09,233.67 555.42,232.58 557.08,234.00 C558.74,235.42 560.57,237.25 562.06,239.00 C563.56,240.75 564.72,242.58 566.05,244.50 C567.38,246.42 568.88,248.75 570.04,250.50 C571.21,252.25 572.04,253.78 573.03,255.00 C574.03,256.22 574.86,257.05 576.02,257.80 C577.19,258.55 578.52,259.05 580.01,259.50 C581.51,259.95 583.04,260.25 585.00,260.50 C586.96,260.75 589.32,260.92 591.78,261.00 C594.24,261.08 598.43,261.00 599.76,261.00 L653.60,261.00" fill="none" stroke="#8a8a8a" stroke-width="1.40" stroke-dasharray="1.4 2.6" stroke-linejoin="round" />
<path d="M550.70,170.00 C550.78,178.67 550.96,211.32 551.20,222.00 C551.43,232.68 551.11,231.43 552.09,234.10 C553.07,236.77 555.58,236.52 557.08,238.00 C558.57,239.48 559.57,241.08 561.07,243.00 C562.56,244.92 564.56,247.50 566.05,249.50 C567.55,251.50 568.71,253.50 570.04,255.00 C571.37,256.50 572.70,257.63 574.03,258.50 C575.36,259.37 576.39,259.80 578.02,260.20 C579.65,260.60 581.51,260.77 583.80,260.90 C586.10,261.03 590.45,260.98 591.78,261.00 L653.60,261.00" fill="none" stroke="#8a8a8a" stroke-width="1.40" stroke-dasharray="1.4 2.6" stroke-linejoin="round" />
<path d="M550.70,175.00 C550.80,184.17 551.06,219.25 551.30,230.00 C551.53,240.75 551.30,237.25 552.09,239.50 C552.89,241.75 554.75,241.87 556.08,243.50 C557.41,245.13 558.74,247.33 560.07,249.30 C561.40,251.27 562.73,253.68 564.06,255.30 C565.39,256.92 566.55,258.12 568.05,259.00 C569.54,259.88 571.07,260.27 573.03,260.60 C574.99,260.93 577.35,260.93 579.81,261.00 C582.27,261.07 586.46,261.00 587.79,261.00 L653.60,261.00" fill="none" stroke="#8a8a8a" stroke-width="1.40" stroke-dasharray="1.4 2.6" stroke-linejoin="round" />
<path d="M550.70,180.00 C550.81,189.67 551.16,227.17 551.40,238.00 C551.63,248.83 551.48,243.12 552.09,245.00 C552.71,246.88 553.92,247.58 555.08,249.30 C556.25,251.02 557.74,253.65 559.07,255.30 C560.40,256.95 561.57,258.30 563.06,259.20 C564.56,260.10 566.09,260.40 568.05,260.70 C570.01,261.00 572.53,260.95 574.83,261.00 C577.12,261.05 580.64,261.00 581.81,261.00 L653.60,261.00" fill="none" stroke="#8a8a8a" stroke-width="1.40" stroke-dasharray="1.4 2.6" stroke-linejoin="round" />
<path d="M550.70,185.00 C550.81,195.00 551.16,234.08 551.40,245.00 C551.63,255.92 551.58,248.77 552.09,250.50 C552.61,252.23 553.64,254.00 554.49,255.40 C555.33,256.80 555.98,258.05 557.18,258.90 C558.38,259.75 559.89,260.15 561.67,260.50 C563.44,260.85 565.49,260.92 567.85,261.00 C570.21,261.08 574.50,261.00 575.82,261.00 L653.60,261.00" fill="none" stroke="#8a8a8a" stroke-width="1.40" stroke-dasharray="1.4 2.6" stroke-linejoin="round" />
<path d="M550.20,271.00 C550.45,269.90 550.83,265.87 551.69,264.40 C552.56,262.93 554.02,262.72 555.38,262.20 C556.75,261.68 558.13,261.50 559.87,261.30 C561.62,261.10 564.86,261.05 565.85,261.00 L653.60,261.00" fill="none" stroke="#8a8a8a" stroke-width="1.40" stroke-dasharray="1.4 2.6" stroke-linejoin="round" />
<line x1="551.10" y1="166.60" x2="551.10" y2="226.00" stroke="#111" stroke-width="1.6"/>
<line x1="551.10" y1="168.10" x2="551.10" y2="226.00" stroke="#8a8a8a" stroke-width="1.6" stroke-dasharray="1.8 1.8"/>
<line x1="601.75" y1="166.60" x2="601.75" y2="170.60" stroke="#3c3c3c" stroke-width="1.2"/>
<line x1="601.75" y1="267.30" x2="601.75" y2="271.30" stroke="#3c3c3c" stroke-width="1.2"/>
<line x1="549.90" y1="218.95" x2="553.90" y2="218.95" stroke="#3c3c3c" stroke-width="1.2"/>
<line x1="649.60" y1="218.95" x2="653.60" y2="218.95" stroke="#3c3c3c" stroke-width="1.2"/>
<rect x="549.90" y="166.60" width="103.70" height="104.70" fill="none" stroke="#3c3c3c" stroke-width="1.2"/>
<text x="31.80" y="11.20" font-size="15.40" text-anchor="start" font-weight="bold" >a</text>
<text x="194.30" y="10.90" font-size="15.40" text-anchor="start" font-weight="bold" >b</text>
<text x="348.60" y="11.60" font-size="15.40" text-anchor="start" font-weight="bold" >c</text>
<text x="505.30" y="11.20" font-size="15.40" text-anchor="start" font-weight="bold" >d</text>
<text x="28.00" y="155.60" font-size="15.40" text-anchor="start" font-weight="bold" >e</text>
<text x="193.60" y="151.60" font-size="15.40" text-anchor="start" font-weight="bold" >f</text>
<text x="348.40" y="151.50" font-size="15.40" text-anchor="start" font-weight="bold" >g</text>
<text x="505.60" y="151.80" font-size="15.40" text-anchor="start" font-weight="bold" >h</text>
<text transform="translate(10.90,118.00) rotate(-90)" font-size="15.50" font-weight="bold" >Nutr. upshift</text>
<text transform="translate(11.20,274.00) rotate(-90)" font-size="15.75" font-weight="bold" >Nutr. downshift</text>
<path d="M23.5,11.5 V125 M21,11.5 H26.5 M21,125 H26.5" stroke="#222" stroke-width="1.1" fill="none"/>
<path d="M19.8,163.2 V276.3 M17.3,163.2 H22.8 M17.3,276.3 H22.8" stroke="#222" stroke-width="1.1" fill="none"/>
<text transform="translate(50.30,114.00) rotate(-90)" font-size="12.00" font-weight="normal" >Nutr. conc.( <tspan font-family="Liberation Serif" font-style="italic" font-size="14">&#956;</tspan><tspan dx="1.6">M)</tspan></text>
<text x="70.5" y="114.90" font-size="10.3" text-anchor="end">10</text>
<text x="71.3" y="111.00" font-size="7.6">1</text>
<text x="70.5" y="74.85" font-size="10.3" text-anchor="end">10</text>
<text x="71.3" y="70.95" font-size="7.6">2</text>
<text x="70.5" y="34.80" font-size="10.3" text-anchor="end">10</text>
<text x="71.3" y="30.90" font-size="7.6">3</text>
<text transform="translate(202.90,118.40) rotate(-90)" font-size="12.15" font-weight="normal" >Prot. 1 conc. (nM)</text>
<text x="232.20" y="26.60" font-size="10.30" text-anchor="end" font-weight="normal" >1000</text>
<text x="232.30" y="74.60" font-size="10.30" text-anchor="end" font-weight="normal" >500</text>
<text x="234.50" y="124.60" font-size="10.30" text-anchor="end" font-weight="normal" >0</text>
<text transform="translate(365.50,119.50) rotate(-90)" font-size="12.30" font-weight="normal" >Growth rate (hr<tspan font-size="8.2" dy="-4.7">-1</tspan><tspan dy="4.7">)</tspan></text>
<text x="389.10" y="26.60" font-size="10.30" text-anchor="end" font-weight="normal" >2</text>
<text x="388.00" y="76.50" font-size="10.30" text-anchor="end" font-weight="normal" >1</text>
<text x="389.10" y="124.50" font-size="10.30" text-anchor="end" font-weight="normal" >0</text>
<text transform="translate(519.00,106.80) rotate(-90)" font-size="12.20" font-weight="normal" >Proteome frac.</text>
<text x="545.80" y="26.60" font-size="10.30" text-anchor="end" font-weight="normal" >0.5</text>
<text x="545.00" y="75.30" font-size="10.30" text-anchor="end" font-weight="normal" >0.25</text>
<text x="546.30" y="124.60" font-size="10.30" text-anchor="end" font-weight="normal" >0</text>
<text transform="translate(46.10,265.40) rotate(-90)" font-size="12.30" font-weight="normal" >Prot. 1 conc. (nM)</text>
<text x="75.80" y="174.70" font-size="10.30" text-anchor="end" font-weight="normal" >1000</text>
<text x="75.80" y="222.90" font-size="10.30" text-anchor="end" font-weight="normal" >500</text>
<text x="76.50" y="273.00" font-size="10.30" text-anchor="end" font-weight="normal" >0</text>
<text x="81.80" y="286.60" font-size="10.30" text-anchor="middle" font-weight="normal" >0</text>
<text x="132.90" y="286.60" font-size="10.30" text-anchor="middle" font-weight="normal" >40</text>
<text x="184.40" y="286.60" font-size="10.30" text-anchor="middle" font-weight="normal" >80</text>
<text x="133.90" y="298.80" font-size="12.30" text-anchor="middle" font-weight="normal" >Time (hr)</text>
<path d="M80.63,151.2 V160" stroke="#111" stroke-width="1.3" fill="none"/>
<path d="M77.23,159 L84.03,159 L80.63,163 Z" fill="#111"/>
<text x="86.53" y="161.00" font-size="12.00" text-anchor="start" font-weight="normal" >Ts = 0.1 hr</text>
<text transform="translate(203.00,265.40) rotate(-90)" font-size="12.30" font-weight="normal" >Prot. 1 conc. (nM)</text>
<text x="233.20" y="174.70" font-size="10.30" text-anchor="end" font-weight="normal" >1000</text>
<text x="233.20" y="222.90" font-size="10.30" text-anchor="end" font-weight="normal" >500</text>
<text x="233.90" y="273.00" font-size="10.30" text-anchor="end" font-weight="normal" >0</text>
<text x="239.20" y="286.60" font-size="10.30" text-anchor="middle" font-weight="normal" >0</text>
<text x="290.30" y="286.60" font-size="10.30" text-anchor="middle" font-weight="normal" >40</text>
<text x="341.80" y="286.60" font-size="10.30" text-anchor="middle" font-weight="normal" >80</text>
<text x="291.30" y="298.80" font-size="12.30" text-anchor="middle" font-weight="normal" >Time (hr)</text>
<path d="M244.44,151.2 V160" stroke="#111" stroke-width="1.3" fill="none"/>
<path d="M241.04,159 L247.84,159 L244.44,163 Z" fill="#111"/>
<text x="250.34" y="161.00" font-size="12.00" text-anchor="start" font-weight="normal" >Ts = 5 hr</text>
<text transform="translate(359.10,265.40) rotate(-90)" font-size="12.30" font-weight="normal" >Prot. 1 conc. (nM)</text>
<text x="387.90" y="174.70" font-size="10.30" text-anchor="end" font-weight="normal" >1000</text>
<text x="387.90" y="222.90" font-size="10.30" text-anchor="end" font-weight="normal" >500</text>
<text x="388.60" y="273.00" font-size="10.30" text-anchor="end" font-weight="normal" >0</text>
<text x="393.90" y="286.60" font-size="10.30" text-anchor="middle" font-weight="normal" >0</text>
<text x="445.00" y="286.60" font-size="10.30" text-anchor="middle" font-weight="normal" >40</text>
<text x="496.50" y="286.60" font-size="10.30" text-anchor="middle" font-weight="normal" >80</text>
<text x="446.00" y="298.80" font-size="12.30" text-anchor="middle" font-weight="normal" >Time (hr)</text>
<path d="M405.60,151.2 V160" stroke="#111" stroke-width="1.3" fill="none"/>
<path d="M402.20,159 L409.00,159 L405.60,163 Z" fill="#111"/>
<text x="411.50" y="161.00" font-size="12.00" text-anchor="start" font-weight="normal" >Ts = 10 hr</text>
<text transform="translate(517.70,265.40) rotate(-90)" font-size="12.30" font-weight="normal" >Prot. 1 conc. (nM)</text>
<text x="545.20" y="174.70" font-size="10.30" text-anchor="end" font-weight="normal" >1000</text>
<text x="545.20" y="222.90" font-size="10.30" text-anchor="end" font-weight="normal" >500</text>
<text x="545.90" y="273.00" font-size="10.30" text-anchor="end" font-weight="normal" >0</text>
<text x="551.20" y="286.60" font-size="10.30" text-anchor="middle" font-weight="normal" >0</text>
<text x="602.30" y="286.60" font-size="10.30" text-anchor="middle" font-weight="normal" >40</text>
<text x="653.80" y="286.60" font-size="10.30" text-anchor="middle" font-weight="normal" >80</text>
<text x="603.30" y="298.80" font-size="12.30" text-anchor="middle" font-weight="normal" >Time (hr)</text>
<path d="M575.82,151.2 V160" stroke="#111" stroke-width="1.3" fill="none"/>
<path d="M572.42,159 L579.22,159 L575.82,163 Z" fill="#111"/>
<text x="581.72" y="161.00" font-size="12.00" text-anchor="start" font-weight="normal" >Ts = 20 hr</text>
<rect x="666.6" y="17.7" width="92.7" height="104.1" fill="#fff" stroke="#333" stroke-width="1.1"/>
<text x="672.60" y="33.00" font-size="12.20" text-anchor="start" font-weight="normal" >solid:</text>
<text x="672.60" y="44.20" font-size="12.20" text-anchor="start" font-weight="normal" >I.C. 1</text>
<text x="671.00" y="69.40" font-size="12.20" text-anchor="start" font-weight="normal" >dashed:</text>
<text x="672.00" y="82.00" font-size="12.20" text-anchor="start" font-weight="normal" >I.C. 2</text>
<text x="722.30" y="44.80" font-size="12.20" text-anchor="start" font-weight="normal" >R sec.</text>
<text x="721.60" y="82.00" font-size="12.20" text-anchor="start" font-weight="normal" >E sec.</text>
<text x="671.00" y="116.70" font-size="12.20" text-anchor="start" font-weight="normal" >H sec.</text>
<text x="722.60" y="117.90" font-size="12.20" text-anchor="start" font-weight="normal" >Z sec.</text>
<line x1="722.00" y1="23.40" x2="745.40" y2="23.40" stroke="#F5982F" stroke-width="1.4"/>
<line x1="722.00" y1="29.10" x2="745.40" y2="29.10" stroke="#F9CBA0" stroke-width="1.4" stroke-dasharray="5.8 4.7"/>
<line x1="722.00" y1="60.40" x2="745.40" y2="60.40" stroke="#E3224D" stroke-width="1.4"/>
<line x1="722.00" y1="66.10" x2="745.40" y2="66.10" stroke="#F4A9BF" stroke-width="1.4" stroke-dasharray="5.8 4.7"/>
<line x1="671.40" y1="95.70" x2="694.00" y2="95.70" stroke="#4F7FE0" stroke-width="1.4"/>
<line x1="671.40" y1="101.40" x2="694.00" y2="101.40" stroke="#6EA2F2" stroke-width="1.4" stroke-dasharray="5.1 5.1"/>
<line x1="722.90" y1="97.40" x2="745.70" y2="97.40" stroke="#22C36A" stroke-width="1.4"/>
<line x1="722.90" y1="102.90" x2="745.70" y2="102.90" stroke="#9EEAA6" stroke-width="1.4" stroke-dasharray="5.1 5.1"/>
<rect x="666.7" y="169.1" width="78.8" height="102.2" fill="#fff" stroke="#333" stroke-width="1.1"/>
<line x1="671.3" y1="180.4" x2="693.6" y2="180.4" stroke="#222" stroke-width="1.2"/>
<line x1="671.3" y1="228.5" x2="693.6" y2="228.5" stroke="#aaa" stroke-width="1.2" stroke-dasharray="1.3 2.4"/>
<text x="671.3" y="202.7" font-size="12.2">with [<tspan font-style="italic">n</tspan>]</text>
<text x="671.30" y="213.60" font-size="12.20" text-anchor="start" font-weight="normal" >downshift</text>
<text x="671.3" y="248.2" font-size="12.2">without [<tspan font-style="italic">n</tspan>]</text>
<text x="671.30" y="259.10" font-size="12.20" text-anchor="start" font-weight="normal" >downshift</text>
<rect x="236.6" y="308.6" width="249.8" height="20.8" fill="#fff" stroke="#222" stroke-width="1.1"/>
<rect x="244" y="315.8" width="26" height="8" fill="#FFDDF6"/>
<rect x="386.4" y="315.8" width="25.8" height="8" fill="#D2F6F9"/>
<text x="276.2" y="322.6" font-size="12">[<tspan font-style="italic">n</tspan>] =</text>
<text x="305.0" y="322.6" font-size="12">1000</text>
<text x="333.0" y="322.6" font-size="14.5" font-family="Liberation Serif" font-style="italic">&#956;</text>
<text x="342.0" y="322.6" font-size="12">M</text>
<text x="416.9" y="322.6" font-size="12">[<tspan font-style="italic">n</tspan>] =</text>
<text x="444.9" y="322.6" font-size="12">10</text>
<text x="460.4" y="322.6" font-size="13.5" font-family="Liberation Serif" font-style="italic" fill="#555">&#956;</text>
<text x="467.9" y="322.6" font-size="12">M</text>
</svg>
</body></html>
